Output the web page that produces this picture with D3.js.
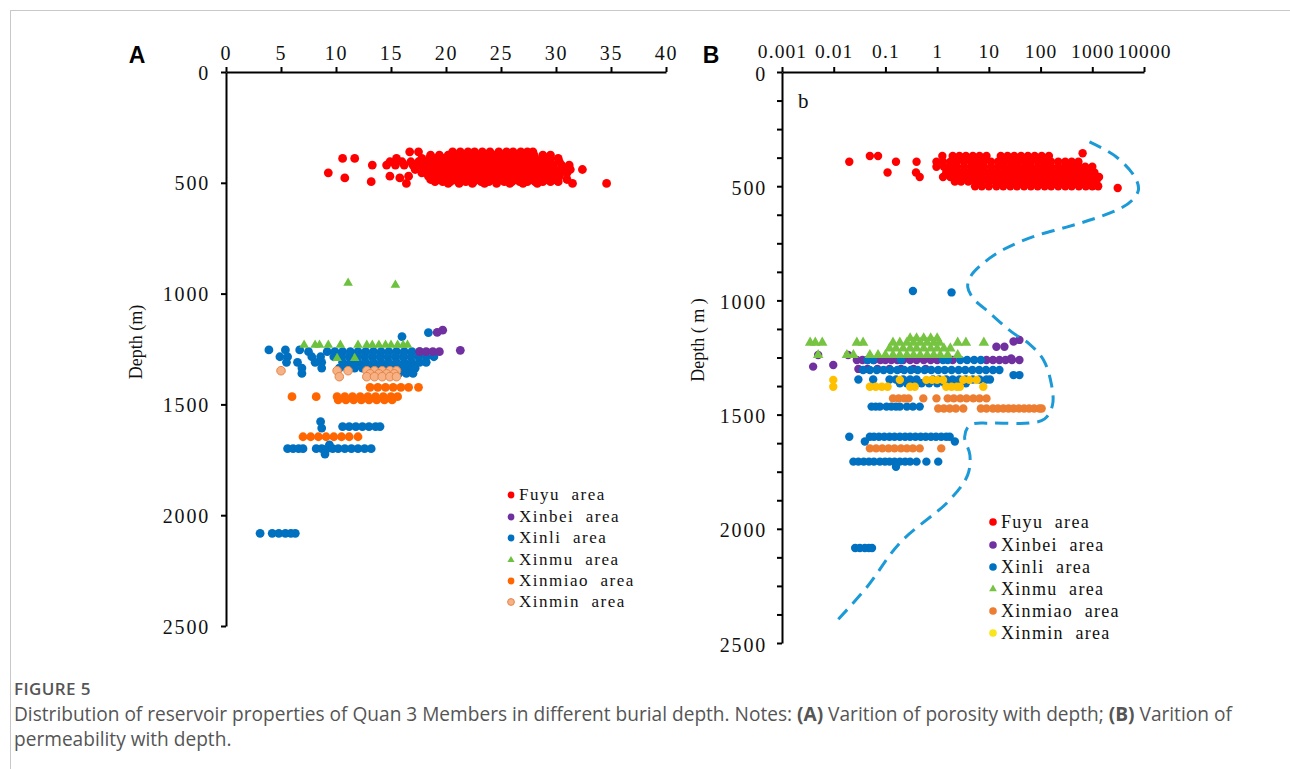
<!DOCTYPE html>
<html><head><meta charset="utf-8">
<script src="https://cdn.jsdelivr.net/npm/d3@7"></script>
<style>
body{margin:0;background:#fff;}
svg{display:block;}
</style>
</head><body>
<svg id="c" width="1290" height="769"></svg>
<script>
// ---------------- DATA ----------------
const porosityTicks = [0, 5, 10, 15, 20, 25, 30, 35, 40];
const permTicks = [0.001, 0.01, 0.1, 1, 10, 100, 1000, 10000];
const permTickLabels = ["0.001", "0.01", "0.1", "1", "10", "100", "1000", "10000"];
const depthTicks = [0, 500, 1000, 1500, 2000, 2500];
const depthTicksB = [0,125,250,375,500,625,750,875,1000,1125,1250,1375,1500,1625,1750,1875,2000,2125,2250,2375,2500];
const areaNames = ["Fuyu area", "Xinbei area", "Xinli area", "Xinmu area", "Xinmiao area", "Xinmin area"];

// Panel A: porosity (%) by depth row  [depth, [porosity...]]
const fuyuA = [
  [360, [16.7, 17.5, 20.6, 21.3, 22.0, 22.6, 23.3, 24.0, 24.8, 25.5, 26.1, 26.8, 27.4, 27.9]],
  [375, [18.6, 19.4, 20.2, 21.0, 21.7, 22.4, 23.1, 23.8, 24.5, 25.2, 25.9, 26.6, 27.3, 28.0, 28.8, 29.5]],
  [390, [10.6, 11.7, 15.5, 17.8, 18.5, 19.1, 19.8, 20.4, 21.1, 21.8, 22.5, 23.2, 23.9, 24.6, 25.3, 26.0, 26.7, 27.4, 28.1, 28.8, 29.5, 30.2]],
  [405, [14.9, 16.0, 16.8, 17.5, 18.3, 19.0, 19.7, 20.4, 21.1, 21.8, 22.5, 23.2, 23.9, 24.6, 25.3, 26.0, 26.7, 27.4, 28.1, 28.8, 29.5, 30.3]],
  [420, [13.3, 14.6, 15.4, 16.2, 17.0, 17.8, 18.5, 19.2, 19.9, 20.6, 21.3, 22.0, 22.7, 23.4, 24.1, 24.8, 25.5, 26.2, 26.9, 27.6, 28.3, 29.0, 29.7, 30.5, 31.2]],
  [440, [17.2, 18.0, 18.7, 19.4, 20.1, 20.8, 21.5, 22.2, 22.9, 23.6, 24.3, 25.0, 25.7, 26.4, 27.1, 27.8, 28.5, 29.2, 29.9, 30.6, 31.3, 32.4]],
  [455, [9.3, 17.8, 18.5, 19.2, 19.9, 20.6, 21.3, 22.0, 22.7, 23.4, 24.1, 24.8, 25.5, 26.2, 26.9, 27.6, 28.3, 29.0, 29.7, 30.4, 31.0]],
  [470, [14.9, 16.6, 18.4, 19.1, 19.8, 20.5, 21.2, 21.9, 22.6, 23.3, 24.0, 24.7, 25.4, 26.1, 26.8, 27.5, 28.2, 28.9, 29.6, 30.3]],
  [478, [10.8, 15.8]],
  [485, [18.6, 19.3, 20.0, 20.7, 21.4, 22.1, 22.8, 23.5, 24.2, 24.9, 25.6, 26.3, 27.0, 27.7, 28.4, 29.1, 29.8, 31.0]],
  [495, [13.2, 19.0, 19.7, 20.4, 21.1, 21.8, 22.5, 23.2, 23.9, 24.6, 25.3, 26.0, 26.7, 27.4, 28.1, 28.8, 29.5, 30.2]],
  [503, [16.4, 20.2, 21.2, 22.4, 23.5, 24.6, 25.8, 27.0, 28.3, 31.5, 34.6]]
];
const xinbeiA = [
  [1165, [19.7]], [1175, [19.2]], [1256, [21.3]], [1262, [17.6, 18.2, 18.8, 19.4]]
];
const xinliA = [
  [1176, [18.4]], [1194, [16.0]],
  [1254, [3.9, 5.4, 6.7]],
  [1262, [7.5, 9.2, 9.9, 10.6, 11.3, 12.0, 12.7, 13.4, 14.1, 14.8, 15.5, 16.2, 16.9, 17.6]],
  [1285, [4.9, 5.6, 7.8, 8.6, 9.8, 10.5, 11.2, 11.9, 12.6, 13.3, 14.0, 14.7, 15.4, 16.1, 16.8, 17.5, 18.2, 18.9]],
  [1310, [5.5, 6.5, 8.1, 8.7, 10.6, 11.3, 12.0, 12.7, 13.4, 14.1, 14.8, 15.5, 16.2, 16.9, 17.6, 18.2]],
  [1336, [6.9, 8.7, 10.3, 11.0, 11.7, 12.4, 13.1, 13.8, 14.5, 15.2, 15.9, 16.6, 17.2]],
  [1360, [6.9, 13.6, 14.3, 15.0, 15.7, 16.4, 17.0]],
  [1578, [8.6]],
  [1600, [10.6, 11.2, 11.8, 12.4, 13.0, 13.6, 14.0]],
  [1607, [8.7]],
  [1683, [9.4]],
  [1700, [5.6, 6.1, 6.6, 7.0, 8.2, 8.7, 9.2, 9.7, 10.2, 10.8, 11.4, 12.0, 12.6, 13.2]],
  [1724, [9.0]],
  [2082, [3.1, 4.2, 4.8, 5.4, 5.9, 6.3]]
];
const xinmuA = [
  [952, [11.1]], [961, [15.4]],
  [1232, [7.1, 8.1, 8.5, 9.3, 10.4, 12.0, 12.8, 13.3, 13.9, 14.5, 15.0, 15.6, 16.1, 16.5]],
  [1292, [10.1, 11.7]]
];
const xinmiaoA = [
  [1423, [13.1, 13.8, 14.5, 15.2, 15.9, 16.6, 17.5]],
  [1465, [6.0, 8.2, 10.1, 10.8, 11.5, 12.2, 12.9, 13.6, 14.3, 15.0, 15.6]],
  [1480, [10.2, 10.9, 11.6, 12.3, 13.0, 13.7, 14.4, 15.1]],
  [1646, [7.0, 7.7, 8.4, 9.1, 9.8, 10.5, 11.2, 12.0]]
];
const xinminA = [
  [1348, [5.0, 10.1, 11.1, 12.8, 13.5, 14.2, 14.9, 15.5]],
  [1362, [13.1, 13.9, 14.6, 15.3]],
  [1375, [10.3, 12.8, 13.5, 14.2, 14.9, 15.5]]
];

// Panel B: permeability (mD) by depth row  [depth, [permeability...]]
const fuyuB = [
  [356, [650]],
  [368, [0.05, 0.072, 1.26, 2.0, 2.7, 3.6, 4.9, 6.6, 9, 17, 23, 31, 42, 57, 77, 105, 145]],
  [393, [0.02, 0.16, 0.4, 0.97, 1.3, 1.8, 2.4, 3.3, 4.5, 6, 8, 11, 15, 20, 27, 36, 49, 66, 90, 120, 160, 220, 300, 400, 540]],
  [415, [0.97, 1.35, 1.8, 2.4, 3.3, 4.5, 6, 8, 11, 15, 20, 27, 36, 49, 66, 90, 120, 160, 220, 300, 400, 540, 730, 1000]],
  [440, [0.11, 0.39, 1.5, 2.0, 2.7, 3.6, 4.9, 6.6, 9, 12, 16, 22, 30, 40, 54, 73, 100, 135, 180, 245, 330, 450, 600, 810, 1100]],
  [460, [0.46, 1.3, 1.8, 2.4, 3.3, 4.5, 6, 8, 11, 15, 20, 27, 36, 49, 66, 90, 120, 160, 220, 300, 400, 540, 730, 1000, 1350]],
  [480, [2.2, 2.9, 4.0, 5.4, 7.3, 10, 13.5, 18, 25, 33, 45, 61, 82, 110, 150, 200, 270, 370, 500, 670, 900, 1200]],
  [500, [5.4, 7.3, 10, 14, 19, 26, 35, 48, 65, 88, 120, 160, 220, 300, 400, 550, 750, 1000, 1300]],
  [508, [3100]]
];
const xinbeiB = [
  [1173, [39]], [1180, [30]], [1203, [14, 20]], [1239, [0.005, 0.019]], [1254, [27]],
  [1261, [0.028, 0.036, 0.045, 0.06, 0.08, 0.1, 0.13, 0.17, 0.22, 0.3, 0.4, 0.55, 0.75, 1.0, 2.0, 9, 12, 16, 21, 28, 39]],
  [1283, [0.0098]], [1290, [0.004]],
  [1300, [0.03, 0.045, 0.07, 0.12, 0.2, 0.35, 0.6]]
];
const xinliB = [
  [959, [0.34]], [965, [1.9]],
  [1261, [0.045, 0.058, 0.2, 1.3, 1.6, 2.8, 3.8, 5.2, 7]],
  [1305, [0.037, 0.05, 0.068, 0.092, 0.125, 0.17, 0.23, 0.31, 0.42, 0.57, 0.77, 1.05, 1.4, 1.9, 2.6, 3.5, 4.8, 6.5, 8.8, 12, 16]],
  [1327, [30, 39]],
  [1346, [0.030, 0.058, 0.12, 0.16, 0.22, 0.30, 0.40, 0.83, 1.1, 1.5, 2.0, 2.7, 3.6, 4.9, 6.6, 9, 10.5]],
  [1363, [0.19, 0.26, 0.35, 0.5, 0.7, 1.0, 1.4, 2.0, 2.8, 3.6]],
  [1465, [0.054, 0.065, 0.078, 0.105, 0.13, 0.16, 0.19, 0.26, 0.34, 0.46]],
  [1597, [0.020, 0.05, 0.06, 0.075, 0.095, 0.12, 0.15, 0.19, 0.24, 0.3, 0.38, 0.48, 0.6, 0.76, 0.95, 1.2, 1.5, 1.75]],
  [1618, [0.040, 2.2]],
  [1706, [0.024, 0.03, 0.038, 0.048, 0.06, 0.078, 0.098, 0.12, 0.15, 0.19, 0.24, 0.30, 0.40, 0.62, 1.05]],
  [1728, [0.16]],
  [2084, [0.026, 0.032, 0.04, 0.048, 0.055]]
];
const xinmuB = [
  [1166, [0.3, 0.4, 0.55, 0.75, 1.0]],
  [1185, [0.0035, 0.0044, 0.006, 0.028, 0.037, 0.14, 0.19, 0.26, 0.35, 0.47, 0.64, 0.86, 1.1, 2.5, 3.6, 8]],
  [1210, [0.12, 0.16, 0.22, 0.3, 0.4, 0.55, 0.75, 1.0, 1.35, 1.8]],
  [1239, [0.005, 0.018, 0.024, 0.05, 0.072, 0.1, 0.14, 0.19, 0.26, 0.35, 0.47, 0.64, 0.86, 1.15, 1.6, 2.5]]
];
const xinmiaoB = [
  [1429, [0.14, 0.18, 0.23, 0.28, 0.54, 0.97, 1.6, 2.1, 2.8, 3.7, 5, 6.6, 9]],
  [1473, [1.05, 1.35, 1.75, 2.3, 3.2, 7, 9, 12, 15, 19, 24, 30, 38, 48, 60, 75, 95, 105]],
  [1648, [0.05, 0.066, 0.087, 0.115, 0.15, 0.2, 0.26, 0.34, 0.46, 1.2]]
];
const xinminB = [
  [1348, [0.0098, 0.19, 0.62, 0.8, 1.0, 1.3, 3.2, 4.2, 5.8]],
  [1378, [0.0098, 0.05, 0.065, 0.085, 0.11, 0.3, 0.37, 1.5, 1.9, 2.4, 2.75, 7.8]]
];
// Dashed trend curve in panel B: [permeability, depth]
const trendB = [
  [883, 306], [2930, 372], [6820, 464], [7800, 517], [5970, 560], [3660, 595], [1205, 639], [318, 679],
  [70, 722], [20, 775], [8.3, 832], [4.5, 893], [3.9, 941], [4.9, 989], [10.4, 1055], [27.5, 1138],
  [61, 1191], [114, 1261], [163, 1370], [170, 1458], [120, 1519], [61, 1537], [10.4, 1537], [4.3, 1546],
  [3.4, 1598], [4.3, 1677], [3.9, 1764], [1.75, 1874], [0.19, 2062], [0.044, 2255], [0.0097, 2421]
];

// ---------------- DRAW ----------------
const svg = d3.select("#c");
const SERIF = '"Liberation Serif","Times New Roman",serif';
const flat = rows => rows.flatMap(([d, xs]) => xs.map(x => ({x, d})));

// frame
svg.append("line").attr("x1", 10).attr("x2", 1290).attr("y1", 10.5).attr("y2", 10.5).attr("stroke", "#c8c8c8");
svg.append("line").attr("x1", 10.5).attr("x2", 10.5).attr("y1", 10).attr("y2", 769).attr("stroke", "#c8c8c8");

function styleAxis(g, size, spacing) {
  g.select(".domain").attr("stroke", "#000").attr("stroke-width", 2);
  g.selectAll(".tick line").attr("stroke", "#000").attr("stroke-width", 2);
  g.selectAll(".tick text").attr("font-family", SERIF).attr("font-size", size || 20).attr("fill", "#111")
    .attr("letter-spacing", spacing == null ? 1.8 : spacing);
}

// ---- Panel A ----
const xA = d3.scaleLinear().domain([0, 40]).range([226, 666]);
const yA = d3.scaleLinear().domain([0, 2500]).range([72, 626]);

svg.append("g").attr("transform", `translate(0,${yA(0)})`)
  .call(d3.axisTop(xA).tickValues(porosityTicks).tickFormat(d3.format("d")).tickSize(5).tickSizeOuter(0).tickPadding(7))
  .call(styleAxis);
svg.append("g").attr("transform", `translate(${xA(0)},0)`)
  .call(d3.axisLeft(yA).tickValues(depthTicks).tickFormat(d3.format("d")).tickSize(5).tickSizeOuter(0).tickPadding(11))
  .call(styleAxis)
  .selectAll(".tick text").attr("dy", "0.35em");

svg.append("text").attr("transform", `translate(142,342) rotate(-90)`).attr("text-anchor", "middle")
  .attr("font-family", SERIF).attr("font-size", 18).attr("fill", "#111").text("Depth (m)");
svg.append("text").attr("x", 137).attr("y", 63).attr("text-anchor", "middle")
  .attr("font-family", "Liberation Sans, Arial, sans-serif").attr("font-weight", "bold").attr("font-size", 23).text("A");

const colA = {fuyu: "#ff0000", xinbei: "#7030a0", xinli: "#0070c0", xinmu: "#6cc13f", xinmiao: "#ff6600", xinmin: "#f6b185"};
function dots(g, data, xs, ys, r, fill, stroke) {
  g.selectAll(null).data(data).enter().append("circle")
    .attr("cx", d => xs(d.x)).attr("cy", d => ys(d.d)).attr("r", r)
    .attr("fill", fill).attr("stroke", stroke || "none").attr("stroke-width", stroke ? 1 : 0);
}
function tris(g, data, xs, ys, size, fill) {
  const sym = d3.symbol().type(d3.symbolTriangle).size(size);
  g.selectAll(null).data(data).enter().append("path")
    .attr("d", sym).attr("transform", d => `translate(${xs(d.x)},${ys(d.d)})`).attr("fill", fill);
}
const gA = svg.append("g");
dots(gA, flat(fuyuA), xA, yA, 4.4, colA.fuyu);
dots(gA, flat(xinliA), xA, yA, 4.4, colA.xinli);
dots(gA, flat(xinmiaoA), xA, yA, 4.4, colA.xinmiao);
dots(gA, flat(xinminA), xA, yA, 4.3, colA.xinmin, "#e6864c");
tris(gA, flat(xinmuA), xA, yA, 40, colA.xinmu);
dots(gA, flat(xinbeiA), xA, yA, 4.4, colA.xinbei);

// legend A
const legA = svg.append("g");
const legAy = [494, 516, 537, 559, 580, 601];
const legAcol = [colA.fuyu, colA.xinbei, colA.xinli, colA.xinmu, colA.xinmiao, colA.xinmin];
areaNames.forEach((n, i) => {
  if (i === 3) {
    legA.append("path").attr("d", d3.symbol().type(d3.symbolTriangle).size(22)()).attr("transform", `translate(511,${legAy[i] + 1})`).attr("fill", legAcol[i]);
  } else {
    legA.append("circle").attr("cx", 511).attr("cy", legAy[i] + 1).attr("r", 3.4).attr("fill", legAcol[i])
      .attr("stroke", i === 5 ? "#e6864c" : "none");
  }
  legA.append("text").attr("x", 519).attr("y", legAy[i] + 6).attr("font-family", SERIF).attr("font-size", 17)
    .attr("letter-spacing", 1.5).attr("fill", "#111").attr("xml:space", "preserve").text(n.replace(" ", "  "));
});

// ---- Panel B ----
const xB = d3.scaleLog().domain([0.001, 10000]).range([782, 1144]);
const yB = d3.scaleLinear().domain([0, 2500]).range([72, 643]);

svg.append("g").attr("transform", `translate(0,${yB(0)})`)
  .call(d3.axisTop(xB).tickValues(permTicks).tickFormat((d, i) => permTickLabels[i]).tickSize(5).tickSizeOuter(0).tickPadding(9))
  .call(g => styleAxis(g, 19.5, 1.1));
svg.append("g").attr("transform", `translate(${xB.range()[0]},0)`)
  .call(d3.axisLeft(yB).tickValues(depthTicksB).tickFormat(d => d % 500 === 0 ? d : "").tickSize(5).tickSizeOuter(0).tickPadding(10))
  .call(styleAxis)
  .selectAll(".tick text").attr("dy", "0.4em");

svg.append("text").attr("transform", `translate(704,340) rotate(-90)`).attr("text-anchor", "middle")
  .attr("font-family", SERIF).attr("font-size", 18).attr("fill", "#111").attr("xml:space", "preserve").text("Depth ( m )");
svg.append("text").attr("x", 711).attr("y", 63).attr("text-anchor", "middle")
  .attr("font-family", "Liberation Sans, Arial, sans-serif").attr("font-weight", "bold").attr("font-size", 23).text("B");
svg.append("text").attr("x", 798).attr("y", 108).attr("font-family", SERIF).attr("font-size", 21).attr("fill", "#111").text("b");

const colB = {fuyu: "#ff0000", xinbei: "#7030a0", xinli: "#0070c0", xinmu: "#76c442", xinmiao: "#ed7d31", xinmin: "#ffc000"};
const gB = svg.append("g");
dots(gB, flat(fuyuB), xB, yB, 4.2, colB.fuyu);
dots(gB, flat(xinbeiB), xB, yB, 4.2, colB.xinbei);
dots(gB, flat(xinliB), xB, yB, 4.2, colB.xinli);
dots(gB, flat(xinmiaoB), xB, yB, 4.2, colB.xinmiao);
dots(gB, flat(xinminB), xB, yB, 4.2, colB.xinmin);
tris(gB, flat(xinmuB), xB, yB, 48, colB.xinmu);

svg.append("path").datum(trendB)
  .attr("d", d3.line().x(d => xB(d[0])).y(d => yB(d[1])).curve(d3.curveCatmullRom.alpha(0.5)))
  .attr("fill", "none").attr("stroke", "#1b9ad7").attr("stroke-width", 3).attr("stroke-dasharray", "13,8");

// legend B
const legB = svg.append("g");
const legBy = [522, 545, 567, 589, 611, 633];
const legBcol = [colB.fuyu, colB.xinbei, colB.xinli, colB.xinmu, colB.xinmiao, "#f9e51c"];
areaNames.forEach((n, i) => {
  if (i === 3) {
    legB.append("path").attr("d", d3.symbol().type(d3.symbolTriangle).size(26)()).attr("transform", `translate(993,${legBy[i]})`).attr("fill", legBcol[i]);
  } else {
    legB.append("circle").attr("cx", 993).attr("cy", legBy[i]).attr("r", 3.8).attr("fill", legBcol[i]);
  }
  legB.append("text").attr("x", 1001).attr("y", legBy[i] + 6).attr("font-family", SERIF).attr("font-size", 18)
    .attr("letter-spacing", 1.3).attr("fill", "#111").attr("xml:space", "preserve").text(n.replace(" ", "  "));
});

// ---- caption ----
const cap = svg.append("g").attr("font-family", "Open Sans, sans-serif").attr("fill", "#555");
cap.append("text").attr("x", 14).attr("y", 695).attr("font-size", 17).attr("font-weight", 600).attr("letter-spacing", 0.4).text("FIGURE 5");
const l1 = cap.append("text").attr("x", 14).attr("y", 721).attr("font-size", 19.1);
l1.append("tspan").text("Distribution of reservoir properties of Quan 3 Members in different burial depth. Notes: ");
l1.append("tspan").attr("font-weight", "bold").text("(A)");
l1.append("tspan").text(" Varition of porosity with depth; ");
l1.append("tspan").attr("font-weight", "bold").text("(B)");
l1.append("tspan").text(" Varition of");
cap.append("text").attr("x", 14).attr("y", 746).attr("font-size", 19.1).text("permeability with depth.");
</script>
</body></html>
